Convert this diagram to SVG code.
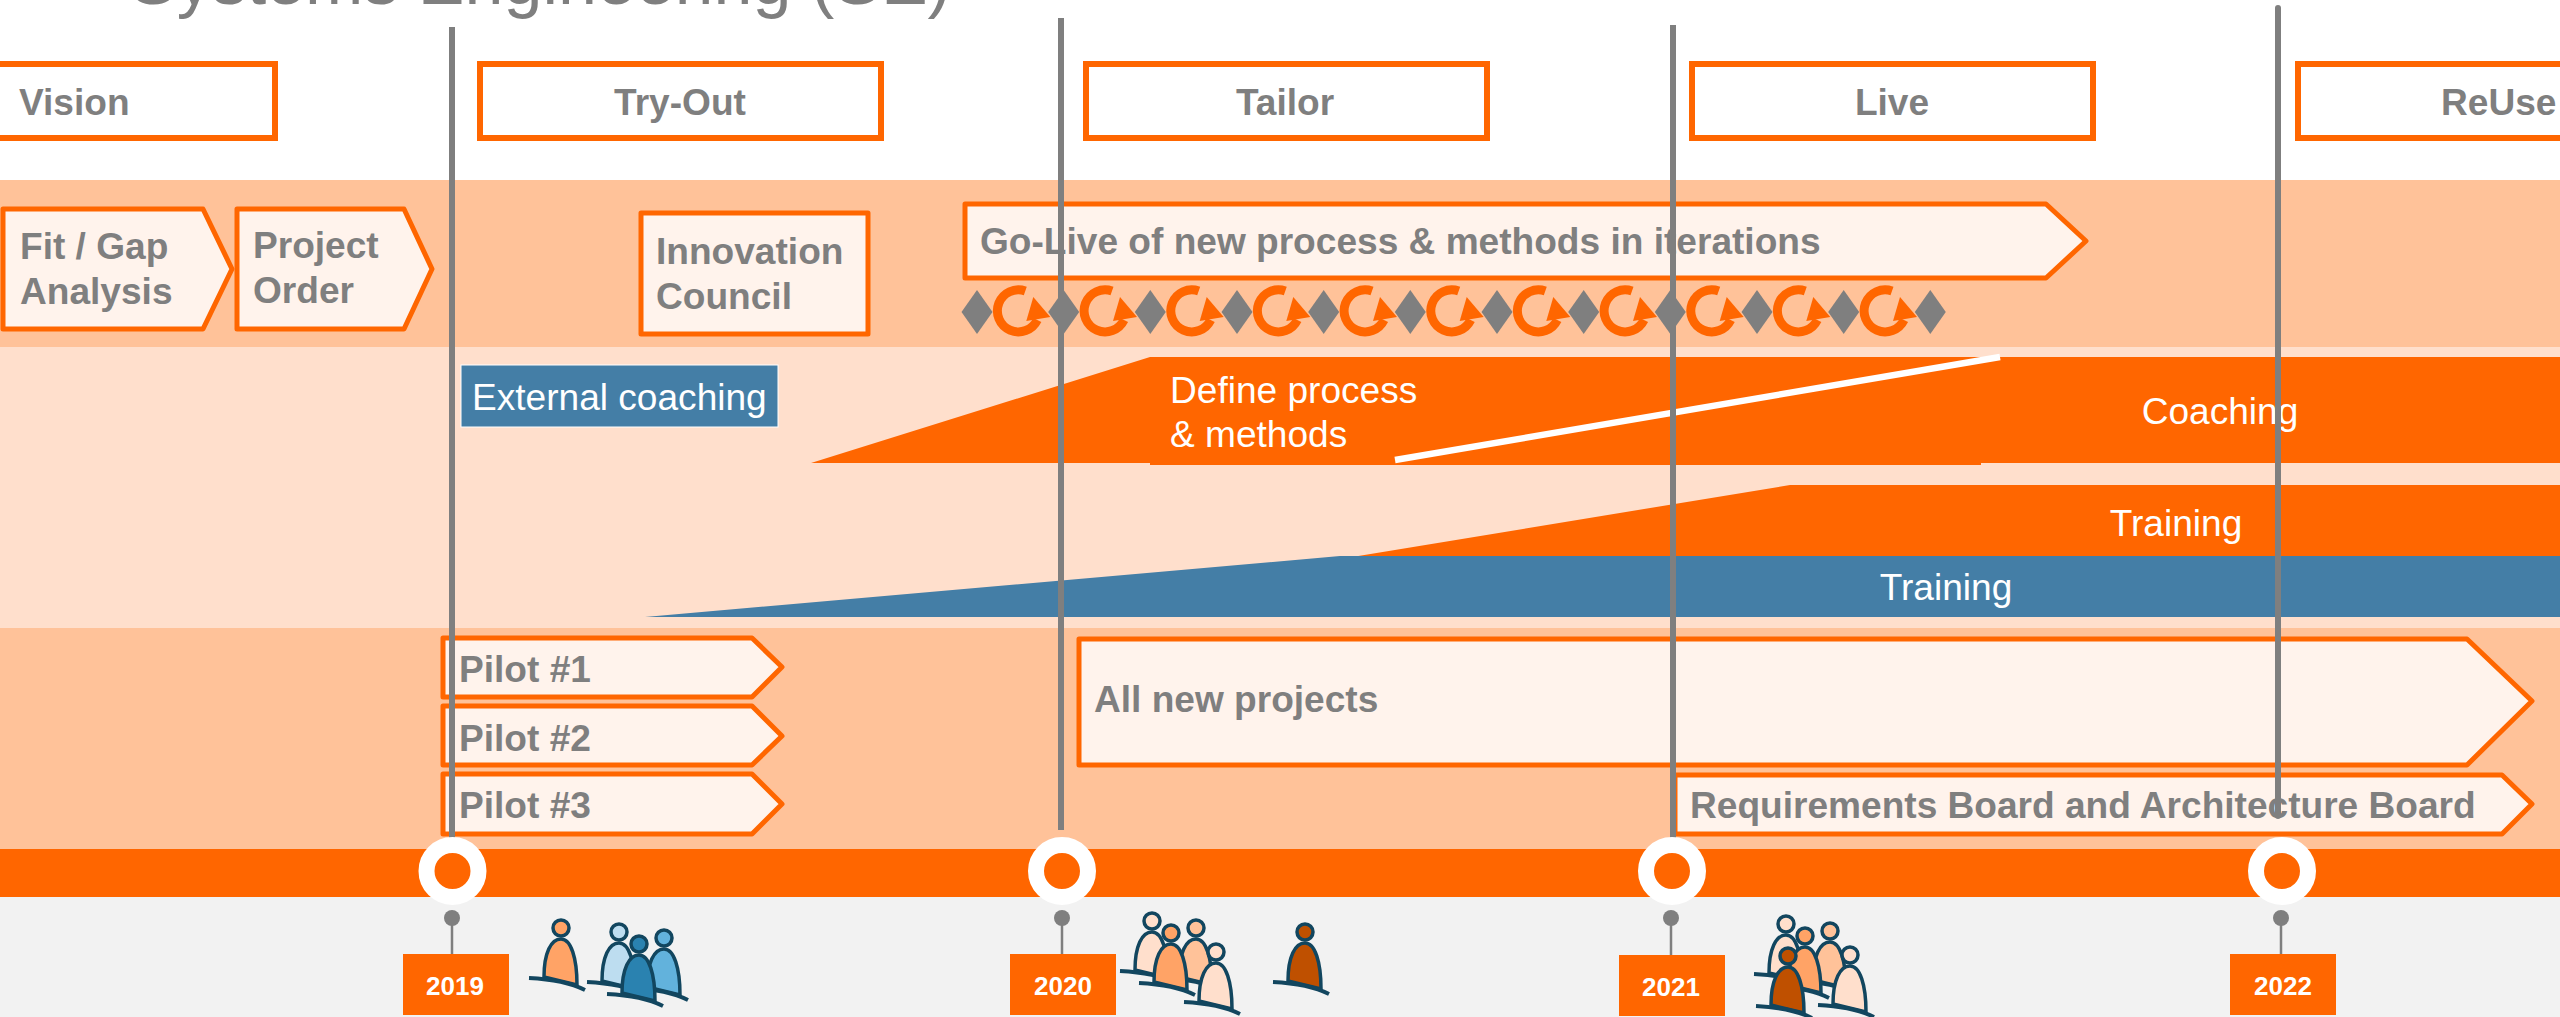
<svg xmlns="http://www.w3.org/2000/svg" xmlns:xlink="http://www.w3.org/1999/xlink" width="2560" height="1017" viewBox="0 0 2560 1017">
<style>
text{font-family:"Liberation Sans",Arial,sans-serif}
.h{fill:#fff;stroke:#FF6600;stroke-width:6}
.b{fill:#FFF3EC;stroke:#FF6600;stroke-width:5;stroke-linejoin:round}
.t{font-size:37.1px;font-weight:bold;fill:#7F7F7F}
.w{font-size:37.1px;fill:#fff}
.y{font-size:26px;font-weight:bold;fill:#fff;text-anchor:middle}
.m{text-anchor:middle}
.v{stroke:#7F7F7F;stroke-width:6;fill:none}
.ring{fill:#FF6600;stroke:#fff;stroke-width:16}
.pin{fill:#7F7F7F}
.st{stroke:#7F7F7F;stroke-width:2.5}
.yb{fill:#FF6600}
.p{stroke:#12465F;stroke-width:3.5;stroke-linejoin:round}
</style>
<defs>
<g id="dia"><polygon points="-15.5,0 0,-22 15.5,0 0,22" fill="#7F7F7F"/></g>
<g id="loop"><path d="M7,-20A21,21 0 1 0 19,9" fill="none" stroke="#FF6600" stroke-width="9"/><polygon points="8,10 15,-14 32,6" fill="#FF6600"/></g>
<g id="person"><path class="p" d="M-17,49C-17,25 -10,11 0,11C10,11 16,30 16,57Z"/><circle class="p" cx="0" cy="0" r="8"/><path d="M-32,50C-12,51 8,54 24,62" fill="none" stroke="#12465F" stroke-width="4"/></g>
</defs>
<rect width="2560" height="1017" fill="#fff"/>
<g id="bands">
<rect y="180" width="2560" height="167" fill="#FFC299"/>
<rect y="347" width="2560" height="281" fill="#FFDFCC"/>
<rect y="628" width="2560" height="221" fill="#FFC299"/>
<rect y="849" width="2560" height="48" fill="#FF6600"/>
<rect y="897" width="2560" height="120" fill="#F2F2F2"/>
</g>
<text id="title" x="130" y="4" font-size="70" fill="#7F7F7F">Systems Engineering (SE)</text>
<g id="vision"><rect class="h" x="-10" y="64" width="285" height="74"/><text class="t" x="19" y="115">Vision</text></g>
<g id="tryout"><rect class="h" x="480" y="64" width="401" height="74"/><text class="t m" x="680" y="115">Try-Out</text></g>
<g id="tailor"><rect class="h" x="1086" y="64" width="401" height="74"/><text class="t m" x="1285" y="115">Tailor</text></g>
<g id="live"><rect class="h" x="1692" y="64" width="401" height="74"/><text class="t m" x="1892" y="115">Live</text></g>
<g id="reuse"><rect class="h" x="2298" y="64" width="290" height="74"/><text class="t" x="2441" y="115">ReUse</text></g>
<g id="fitgap"><polygon class="b" points="3,209 203,209 232,269 203,329 3,329"/><text class="t" x="20" y="259">Fit / Gap</text><text class="t" x="20" y="304">Analysis</text></g>
<g id="projectorder"><polygon class="b" points="237,209 404,209 432,269 404,329 237,329"/><text class="t" x="253" y="258">Project</text><text class="t" x="253" y="303">Order</text></g>
<g id="innovation"><rect class="b" x="641" y="213" width="227" height="121"/><text class="t" x="656" y="264">Innovation</text><text class="t" x="656" y="309">Council</text></g>
<g id="golive"><polygon class="b" points="965,204 2046,204 2086,241 2046,278 965,278"/><text class="t" x="980" y="254">Go-Live of new process &amp; methods in iterations</text></g>
<g id="iterations">
<use href="#dia" x="977" y="312"/><use href="#loop" x="1018.3" y="311"/>
<use href="#dia" x="1063.7" y="312"/><use href="#loop" x="1105" y="311"/>
<use href="#dia" x="1150.3" y="312"/><use href="#loop" x="1191.7" y="311"/>
<use href="#dia" x="1237" y="312"/><use href="#loop" x="1278.3" y="311"/>
<use href="#dia" x="1323.7" y="312"/><use href="#loop" x="1365" y="311"/>
<use href="#dia" x="1410.3" y="312"/><use href="#loop" x="1451.7" y="311"/>
<use href="#dia" x="1497" y="312"/><use href="#loop" x="1538.3" y="311"/>
<use href="#dia" x="1583.7" y="312"/><use href="#loop" x="1625" y="311"/>
<use href="#dia" x="1670.3" y="312"/><use href="#loop" x="1711.7" y="311"/>
<use href="#dia" x="1757" y="312"/><use href="#loop" x="1798.3" y="311"/>
<use href="#dia" x="1843.7" y="312"/><use href="#loop" x="1885" y="311"/>
<use href="#dia" x="1930.3" y="312"/>
</g>
<g id="external"><rect x="461" y="365" width="317" height="62" fill="#447EA6" stroke="#fff" stroke-width="1"/><text class="w" x="472" y="410">External coaching</text></g>
<g id="define"><polygon points="811,463 1150,357 2560,357 2560,463 1981,463 1981,465 1150,465 1150,463" fill="#FF6600"/><line x1="1395" y1="460" x2="2000" y2="357" stroke="#fff" stroke-width="6.5"/><text class="w" x="1170" y="403">Define process</text><text class="w" x="1170" y="447">&amp; methods</text><text class="w m" x="2220" y="424">Coaching</text></g>
<g id="training-orange"><polygon points="1340,559 1790,485 2560,485 2560,557 1340,557" fill="#FF6600"/><text class="w m" x="2176" y="536">Training</text></g>
<g id="training-blue"><polygon points="645,617 1340,556 2560,556 2560,617" fill="#447EA6"/><text class="w m" x="1946" y="600">Training</text></g>
<g id="pilot1"><polygon class="b" points="443,638 752,638 782,667 752,697 443,697"/><text class="t" x="459" y="682">Pilot #1</text></g>
<g id="pilot2"><polygon class="b" points="443,706 752,706 782,736 752,765 443,765"/><text class="t" x="459" y="751">Pilot #2</text></g>
<g id="pilot3"><polygon class="b" points="443,774 752,774 782,804 752,834 443,834"/><text class="t" x="459" y="818">Pilot #3</text></g>
<g id="allnew"><polygon class="b" points="1079,639 2467,639 2532,701 2467,765 1079,765"/><text class="t" x="1094" y="712">All new projects</text></g>
<g id="boards"><polygon class="b" points="1675,775 2502,775 2532,804 2502,834 1675,834"/><text class="t" x="1690" y="818">Requirements Board and Architecture Board</text></g>
<g id="connectors">
<line class="v" x1="452" y1="27" x2="452" y2="840"/>
<line class="v" x1="1061" y1="18" x2="1061" y2="830"/>
<line class="v" x1="1673" y1="25" x2="1673" y2="840"/>
<path class="v" stroke-linecap="round" d="M2278,8V816"/>
<line class="st" x1="452" y1="918" x2="452" y2="954"/>
<line class="st" x1="1062" y1="918" x2="1062" y2="954"/>
<line class="st" x1="1671" y1="918" x2="1671" y2="955"/>
<line class="st" x1="2281" y1="918" x2="2281" y2="954"/>
</g>
<g id="y2019"><circle class="ring" cx="452.500" cy="871" r="26"/><circle class="pin" cx="452" cy="918" r="8"/><rect class="yb" x="403" y="954" width="106" height="61"/><text class="y" x="455" y="995">2019</text></g>
<g id="y2020"><circle class="ring" cx="1062" cy="871" r="26"/><circle class="pin" cx="1062" cy="918" r="8"/><rect class="yb" x="1010" y="954" width="106" height="61"/><text class="y" x="1063" y="995">2020</text></g>
<g id="y2021"><circle class="ring" cx="1672" cy="871" r="26"/><circle class="pin" cx="1671" cy="918" r="8"/><rect class="yb" x="1619" y="955" width="106" height="61"/><text class="y" x="1671" y="996">2021</text></g>
<g id="y2022"><circle class="ring" cx="2282" cy="871" r="26"/><circle class="pin" cx="2281" cy="918" r="8"/><rect class="yb" x="2230" y="954" width="106" height="61"/><text class="y" x="2283" y="995">2022</text></g>
<g id="people2019">
<use href="#person" x="561" y="928" fill="#FFA366"/>
<use href="#person" x="619" y="932" fill="#BDDDF0"/>
<use href="#person" x="664" y="938" fill="#62B2DC"/>
<use href="#person" x="639" y="944" fill="#2A82B0"/>
</g>
<g id="people2020">
<use href="#person" x="1152" y="921" fill="#FFDFCC"/>
<use href="#person" x="1196" y="928" fill="#FFC299"/>
<use href="#person" x="1171" y="933" fill="#FFA366"/>
<use href="#person" x="1216" y="952" fill="#FFDFCC"/>
<use href="#person" x="1305" y="932" fill="#BF5000"/>
</g>
<g id="people2021">
<use href="#person" x="1786" y="924" fill="#FFDFCC"/>
<use href="#person" x="1830" y="931" fill="#FFC299"/>
<use href="#person" x="1805" y="936" fill="#FFA366"/>
<use href="#person" x="1788" y="956" fill="#BF5000"/>
<use href="#person" x="1850" y="955" fill="#FFDFCC"/>
</g>
</svg>
